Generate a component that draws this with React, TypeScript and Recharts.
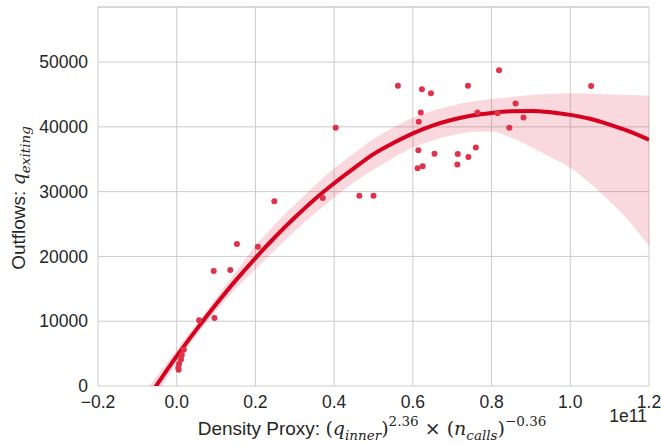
import React from 'react';
import { ComposedChart, Scatter, Line, Area, XAxis, YAxis, CartesianGrid, ReferenceLine } from 'recharts';

// scatter observations (x in units of 1e11)
const pointX = [0.004, 0.005, 0.006, 0.011, 0.013, 0.018, 0.057, 0.096, 0.094, 0.136, 0.153, 0.206, 0.248, 0.371, 0.404, 0.464, 0.500, 0.562, 0.612, 0.625, 0.614, 0.615, 0.620, 0.623, 0.646, 0.655, 0.713, 0.714, 0.741, 0.760, 0.740, 0.764, 0.815, 0.819, 0.845, 0.861, 0.881, 1.053];
const pointY = [2800, 2500, 3400, 4100, 4800, 5600, 10150, 10490, 17750, 17900, 21900, 21500, 28500, 29000, 39850, 29350, 29350, 46350, 33600, 33900, 36400, 40800, 42200, 45800, 45200, 35850, 34200, 35800, 35350, 36800, 46350, 42200, 42100, 48750, 39850, 43600, 41450, 46300];

// fitted order-2 regression line and its confidence band
const fitX = [-0.10, -0.05, 0.00, 0.05, 0.10, 0.15, 0.20, 0.25, 0.30, 0.35, 0.40, 0.45, 0.50, 0.55, 0.60, 0.65, 0.70, 0.75, 0.80, 0.85, 0.90, 0.95, 1.00, 1.05, 1.10, 1.15, 1.20];
const fitY = [-4400, 200, 4600, 8700, 12600, 16300, 19750, 23000, 26000, 28800, 31300, 33600, 35800, 37500, 39000, 40200, 41100, 41750, 42150, 42400, 42450, 42250, 41850, 41250, 40350, 39300, 38000];
const bandLo = [-6400, -1200, 3600, 7800, 11600, 15000, 18000, 21000, 23900, 26600, 29100, 31400, 33400, 35200, 36800, 37900, 38700, 39200, 39300, 38300, 36900, 35300, 33700, 31300, 28500, 25400, 21600];
const bandHi = [-2500, 1600, 5600, 9600, 13600, 17600, 21600, 25000, 28000, 30900, 33600, 35900, 38100, 39900, 41400, 42500, 43300, 43900, 44300, 44600, 44900, 45100, 45200, 45100, 45000, 44900, 44800];

const xTicks = [-0.2, 0, 0.2, 0.4, 0.6, 0.8, 1.0, 1.2];
const yTicks = [0, 10000, 20000, 30000, 40000, 50000];
const xDomain = [-0.2, 1.2];
const yDomain = [0, 58500];

const fitData = fitX.map((x, i) => ({ x, fit: fitY[i], band: [bandLo[i], bandHi[i]] }));
const points = pointX.map((x, i) => ({ x, y: pointY[i] }));

const RED = '#d7001e';
const DOT = '#df334b';
const TXT = '#262626';
const SANS = "'Liberation Sans', Arial, Helvetica, sans-serif";
const SERIF = "'DejaVu Serif', 'Liberation Serif', serif";

const fmtX = (v: number) => v.toFixed(1).replace('-', '\u2212');

const Dot = (props: any) => <circle cx={props.cx} cy={props.cy} r={3} fill={DOT} />;

export default function App() {
  return (
    <div style={{ position: 'absolute', left: 0, top: 0, width: 661, height: 445, background: '#fff' }}>
      <ComposedChart width={661} height={445} data={fitData} margin={{ top: 7, right: 12, bottom: 0, left: 0 }}>
        <CartesianGrid stroke="#cccccc" strokeWidth={1} />
        <XAxis
          type="number"
          dataKey="x"
          domain={xDomain}
          ticks={xTicks}
          interval={0}
          tickFormatter={fmtX}
          height={59}
          tickLine={false}
          axisLine={false}
          tickSize={0}
          tickMargin={10}
          allowDataOverflow
          tick={{ fill: TXT, fontSize: 17.5, fontFamily: SANS }}
        />
        <YAxis
          type="number"
          domain={yDomain}
          ticks={yTicks}
          interval={0}
          width={98}
          tickLine={false}
          axisLine={false}
          tickSize={0}
          tickMargin={10}
          allowDataOverflow
          tick={{ fill: TXT, fontSize: 17.5, fontFamily: SANS }}
        />
        <ReferenceLine y={58500} stroke="#cccccc" strokeWidth={1} />
        <Scatter data={points} dataKey="y" shape={Dot} isAnimationActive={false} />
        <Area type="monotone" dataKey="band" stroke="none" fill={RED} fillOpacity={0.15} isAnimationActive={false} activeDot={false} />
        <Line type="monotone" dataKey="fit" stroke={RED} strokeWidth={4} dot={false} activeDot={false} isAnimationActive={false} />
      </ComposedChart>
      <svg width={661} height={445} style={{ position: 'absolute', left: 0, top: 0, pointerEvents: 'none' }}>
        <text x={372} y={435} textAnchor="middle" fill={TXT} fontFamily={SANS} fontSize={19}>
          <tspan>Density Proxy: </tspan>
          <tspan fontFamily={SERIF} fontSize={19}>(</tspan>
          <tspan fontFamily={SERIF} fontStyle="italic" fontSize={19}>q</tspan>
          <tspan fontFamily={SERIF} fontStyle="italic" fontSize={13.5} dy={5}>inner</tspan>
          <tspan fontFamily={SERIF} fontSize={19} dy={-5}>)</tspan>
          <tspan fontFamily={SERIF} fontSize={13.5} dy={-9}>2.36</tspan>
          <tspan fontFamily={SERIF} fontSize={19} dy={9}> × (</tspan>
          <tspan fontFamily={SERIF} fontStyle="italic" fontSize={19}>n</tspan>
          <tspan fontFamily={SERIF} fontStyle="italic" fontSize={13.5} dy={5}>calls</tspan>
          <tspan fontFamily={SERIF} fontSize={19} dy={-5}>)</tspan>
          <tspan fontFamily={SERIF} fontSize={13.5} dy={-9}>{'\u22120.36'}</tspan>
        </text>
        <text x={647} y={421.5} textAnchor="end" fill={TXT} fontFamily={SANS} fontSize={17.5}>1e11</text>
        <text x={25} y={198} textAnchor="middle" fill={TXT} fontFamily={SANS} fontSize={19} transform="rotate(-90, 25, 198)">
          <tspan>Outflows: </tspan>
          <tspan fontFamily={SERIF} fontStyle="italic" fontSize={19}>q</tspan>
          <tspan fontFamily={SERIF} fontStyle="italic" fontSize={13.5} dy={5}>exiting</tspan>
        </text>
      </svg>
    </div>
  );
}
